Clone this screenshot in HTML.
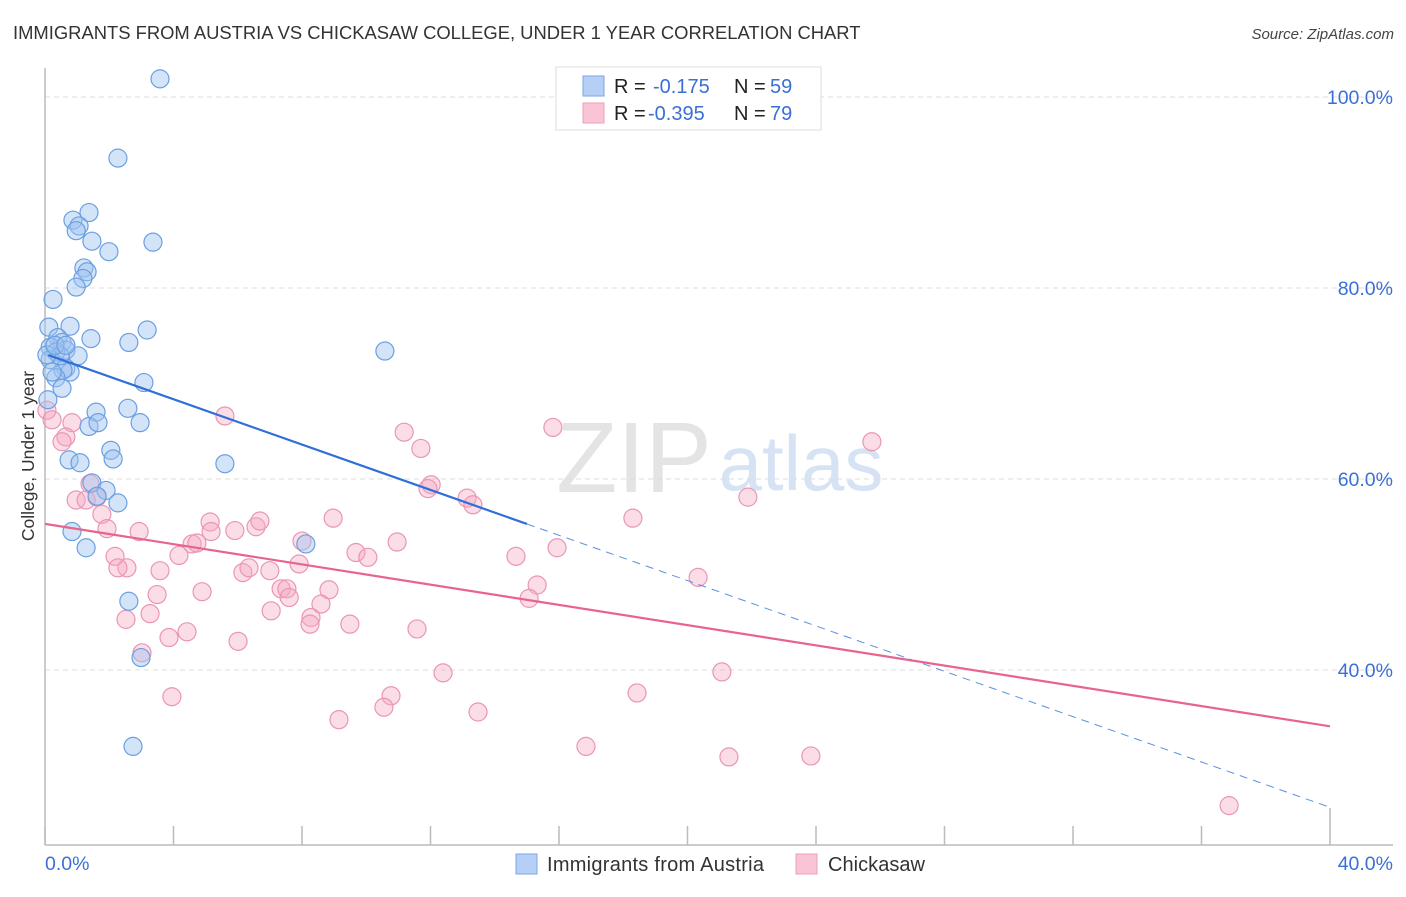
<!DOCTYPE html>
<html><head><meta charset="utf-8"><style>
body{margin:0;background:#fff;font-family:"Liberation Sans",sans-serif;}
svg text{font-family:"Liberation Sans",sans-serif;}
</style></head><body>
<svg id="chart" width="1406" height="892" viewBox="0 0 1406 892" xmlns="http://www.w3.org/2000/svg">
<text x="13" y="39" font-size="18.4" fill="#333">IMMIGRANTS FROM AUSTRIA VS CHICKASAW COLLEGE, UNDER 1 YEAR CORRELATION CHART</text>
<text x="1394" y="39" font-size="15" fill="#444" text-anchor="end" font-style="italic">Source: ZipAtlas.com</text>
<g>
<text x="634" y="492" font-size="100" fill="#e4e4e4" text-anchor="middle" font-family="Liberation Serif, serif">ZIP</text>
<text x="801" y="490" font-size="78" fill="#d5e3f5" text-anchor="middle">atlas</text>
</g>
<g id="grid"></g>
<g id="axes"></g>
<g id="marks"></g>
<text transform="translate(34,456) rotate(-90)" font-size="17.5" fill="#333" text-anchor="middle">College, Under 1 year</text>
<g>
<rect x="556" y="67" width="265" height="63" fill="#fff" stroke="#ddd"/>
<rect x="583" y="76" width="21" height="20" fill="#b5cff5" stroke="#7aa6e6"/>
<rect x="583" y="103" width="21" height="20" fill="#f9c5d6" stroke="#ee9fbb"/>
<text x="614" y="93" font-size="20" fill="#222">R = </text><text x="653" y="93" font-size="20" fill="#3a70d6">-0.175</text>
<text x="734" y="93" font-size="20" fill="#222">N = </text><text x="770" y="93" font-size="20" fill="#3a70d6">59</text>
<text x="614" y="120" font-size="20" fill="#222">R = </text><text x="648" y="120" font-size="20" fill="#3a70d6">-0.395</text>
<text x="734" y="120" font-size="20" fill="#222">N = </text><text x="770" y="120" font-size="20" fill="#3a70d6">79</text>
</g>
<g>
<rect x="516" y="854" width="21" height="20" fill="#b5cff5" stroke="#7aa6e6"/>
<text x="547" y="871" font-size="20" fill="#333" textLength="217">Immigrants from Austria</text>
<rect x="796" y="854" width="21" height="20" fill="#f9c5d6" stroke="#ee9fbb"/>
<text x="828" y="871" font-size="20" fill="#333" textLength="97">Chickasaw</text>
</g>
</svg>
<script>
const blueX=[3.58,2.27,1.37,0.87,1.06,0.97,1.46,3.36,1.99,1.21,1.31,1.18,0.97,0.25,0.12,0.78,3.18,1.43,2.61,0.40,0.53,0.16,0.65,0.34,1.03,10.58,0.16,0.65,0.78,0.56,0.34,3.08,0.53,2.58,1.59,1.37,1.65,2.96,2.05,2.12,0.75,1.09,5.60,1.46,1.90,1.62,2.27,0.84,1.28,8.12,2.61,2.99,2.74,0.09,0.22,0.47,0.06,0.31,0.65];
const blueY=[101.9,93.6,87.9,87.1,86.5,86.0,84.9,84.8,83.8,82.1,81.7,81.0,80.1,78.8,75.9,76.0,75.6,74.7,74.3,74.8,74.3,73.8,73.5,73.3,72.9,73.4,72.5,71.6,71.2,71.4,70.6,70.1,69.5,67.4,67.0,65.5,65.9,65.9,63.0,62.1,62.0,61.7,61.6,59.6,58.8,58.2,57.5,54.5,52.8,53.2,47.2,41.3,32.0,68.3,71.2,72.9,73.0,74.0,74.0];
const pinkX=[0.06,0.22,0.84,0.65,0.53,5.60,11.18,11.70,15.81,25.74,12.02,11.92,13.14,13.32,21.88,0.97,1.28,1.62,1.40,1.77,1.93,2.93,5.14,5.17,5.91,6.57,6.69,8.97,18.30,8.00,4.58,4.73,4.17,2.18,9.68,10.05,10.96,14.66,15.94,2.55,2.27,3.58,6.16,6.35,7.00,7.91,20.33,15.32,15.07,7.35,7.53,7.60,8.84,3.49,4.89,8.59,2.52,3.27,8.28,8.25,9.49,7.04,4.42,3.86,6.01,11.58,3.02,12.39,18.43,21.07,3.95,10.77,10.55,9.15,13.48,16.84,21.29,23.84,36.86];
const pinkY=[67.2,66.2,65.9,64.4,63.9,66.6,64.9,63.2,65.4,63.9,59.4,59.0,58.0,57.3,58.1,57.8,57.8,58.1,59.5,56.3,54.8,54.5,55.5,54.5,54.6,55.0,55.6,55.9,55.9,53.5,53.2,53.3,52.0,51.9,52.3,51.8,53.4,51.9,52.8,50.7,50.7,50.4,50.2,50.7,50.4,51.1,49.7,48.9,47.5,48.5,48.5,47.6,48.4,47.9,48.2,46.9,45.3,45.9,45.5,44.8,44.8,46.2,44.0,43.4,43.0,44.3,41.8,39.7,37.6,39.8,37.2,37.3,36.1,34.8,35.6,32.0,30.9,31.0,25.8];
const yTicks=[100,80,60,40];
const yTickLabels=["100.0%","80.0%","60.0%","40.0%"];
const xTicks=[0,4,8,12,16,20,24,28,32,36,40];
const blueFit=[73.1,-1.187];
const pinkFit=[55.3,-0.53];
const blueSolidEnd=15;

const X0=45,XS=32.125,Y0=1052,YS=9.55;
const sx=v=>X0+v*XS, sy=v=>Y0-v*YS;
const NS="http://www.w3.org/2000/svg";
function mk(tag,attrs,parent){const e=document.createElementNS(NS,tag);for(const k in attrs)e.setAttribute(k,attrs[k]);parent.appendChild(e);return e;}
const grid=document.getElementById('grid'),axes=document.getElementById('axes'),marks=document.getElementById('marks');
yTicks.forEach((t,i)=>{
  const l=mk('line',{x1:45,x2:1393,y1:sy(t),y2:sy(t),stroke:'#dcdcdc','stroke-dasharray':'5,4'},grid);
  
  
  const tx=mk('text',{x:1393,y:sy(t)+7,'font-size':19.5,fill:'#3a70d6','text-anchor':'end'},axes);
  tx.textContent=yTickLabels[i];
  
  
});
const ax=mk('line',{x1:45,x2:45,y1:68,y2:845,stroke:'#bbb','stroke-width':1.5},axes);


const bx=mk('line',{x1:45,x2:1393,y1:845,y2:845,stroke:'#bbb','stroke-width':1.5},axes);


xTicks.forEach((t,i)=>{
  const tk=mk('line',{x1:sx(t),x2:sx(t),y1:(i==xTicks.length-1)?808:826,y2:845,stroke:'#bbb','stroke-width':1.5},axes);
  
  
});
const xl0=mk('text',{x:45,y:870,'font-size':19.5,fill:'#3a70d6'},axes);xl0.textContent='0.0%';


const xl1=mk('text',{x:1393,y:870,'font-size':19.5,fill:'#3a70d6','text-anchor':'end'},axes);xl1.textContent='40.0%';



pinkX.forEach((v,i)=>{
  const c=mk('circle',{cx:sx(v),cy:sy(pinkY[i]),r:9,fill:'rgba(246,170,196,0.4)',stroke:'#eb95b5','stroke-width':1.2},marks);
  
  
});
blueX.forEach((v,i)=>{
  const c=mk('circle',{cx:sx(v),cy:sy(blueY[i]),r:9,fill:'rgba(160,195,240,0.45)',stroke:'#6b9fe2','stroke-width':1.2},marks);
  
  
});
const bf=x=>blueFit[0]+blueFit[1]*x, pf=x=>pinkFit[0]+pinkFit[1]*x;
const l1=mk('line',{x1:sx(0.1),y1:sy(bf(0.1)),x2:sx(blueSolidEnd),y2:sy(bf(blueSolidEnd)),stroke:'#2f6fd8','stroke-width':2.2},marks);


const l2=mk('line',{x1:sx(blueSolidEnd),y1:sy(bf(blueSolidEnd)),x2:sx(40),y2:sy(bf(40)),stroke:'#5b8fe0','stroke-width':1,'stroke-dasharray':'8,6'},marks);


const l3=mk('line',{x1:sx(0),y1:sy(pf(0)),x2:sx(40),y2:sy(pf(40)),stroke:'#e8648f','stroke-width':2.2},marks);


</script>
</body></html>
